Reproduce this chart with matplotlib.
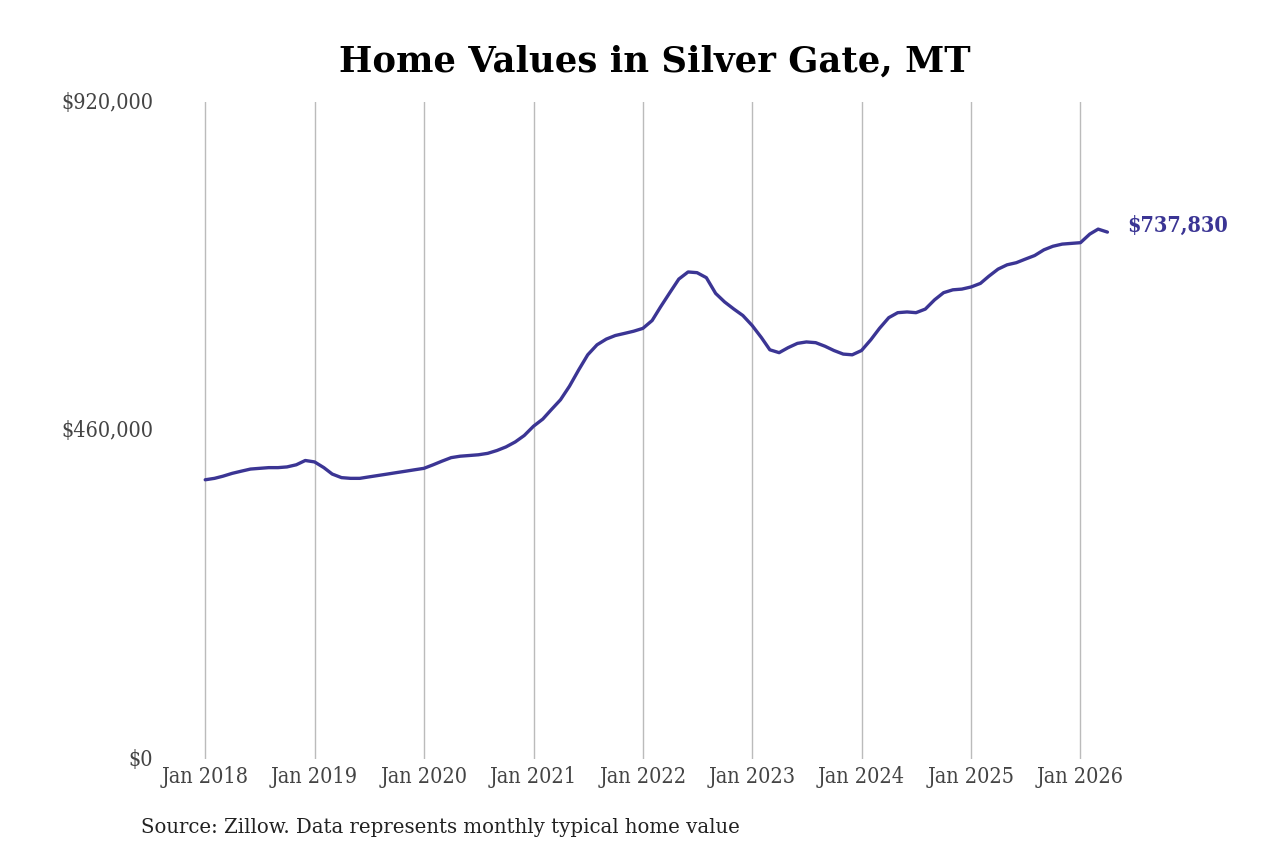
import pandas as pd
import matplotlib.pyplot as plt
import matplotlib.dates as mdates
from matplotlib.ticker import FuncFormatter

# monthly typical home value, Jan 2018 .. Apr 2026
values = [
    391000, 393000, 396000, 400000, 403000, 406000, 407000, 408000, 408000, 409000, 412000, 418000,
    416000, 408000, 399000, 394000, 393000, 393000, 395000, 397000, 399000, 401000, 403000, 405000,
    407000, 412000, 417000, 422000, 424000, 425000, 426000, 428000, 432000, 437000, 444000, 453000,
    466000, 476000, 489000, 503000, 522000, 545000, 566000, 580000, 588000, 593000, 596000, 599000,
    603000, 614000, 633000, 653000, 672000, 682000, 681000, 674000, 652000, 640000, 630000, 621000,
    607000, 590000, 573000, 569000, 576000, 582000, 584000, 583000, 578000, 572000, 567000, 566000,
    572000, 587000, 603000, 618000, 625000, 626000, 625000, 630000, 643000, 653000, 657000, 658000,
    661000, 666000, 676000, 686000, 692000, 695000, 700000, 705000, 713000, 718000, 721000, 722000,
    723000, 735000, 742000, 737830,
]
dates = pd.date_range("2018-01-01", periods=len(values), freq="MS")
tick_years = list(range(2018, 2027))
y_ticks = [0, 460000, 920000]

line_color = "#3b3594"
text_color = "#444444"
plt.rcParams["font.family"] = ["DejaVu Serif"]
plt.rcParams["font.stretch"] = "condensed"

fig = plt.figure(figsize=(12.8, 8.53), dpi=100)
ax = fig.add_axes([160 / 1280, 1 - 760 / 853, 960 / 1280, 657 / 853])

ax.plot(dates, values, color=line_color, linewidth=2.4, solid_capstyle="round",
        solid_joinstyle="round")

ax.set_ylim(0, 920000)
ax.set_xlim(pd.Timestamp("2017-08-03"), pd.Timestamp("2026-05-13"))
ax.set_yticks(y_ticks)
ax.yaxis.set_major_formatter(FuncFormatter(lambda v, p: f"${v:,.0f}"))
ax.set_xticks([pd.Timestamp(f"{y}-01-01") for y in tick_years])
ax.xaxis.set_major_formatter(mdates.DateFormatter("Jan %Y"))

ax.grid(axis="x", color="#bbbbbb", linewidth=1)
ax.set_axisbelow(True)
for s in ax.spines.values():
    s.set_visible(False)
ax.tick_params(axis="both", length=0, labelsize=15.5, colors=text_color)
ax.tick_params(axis="x", pad=4)
ax.tick_params(axis="y", pad=5)
for lbl in ax.get_yticklabels():
    lbl.set_verticalalignment("center")

ax.annotate(f"${values[-1]:,.0f}", xy=(dates[-1], values[-1]), xytext=(14, 5),
            textcoords="offset points", color=line_color, fontsize=15.5,
            fontweight="bold", va="center", ha="left")

fig.text(655 / 1280, 1 - 62 / 853, "Home Values in Silver Gate, MT",
         ha="center", va="center", fontsize=25.5, fontweight="bold",
         fontstretch="normal", color="black")
fig.text(141 / 1280, 1 - 828 / 853, "Source: Zillow. Data represents monthly typical home value",
         ha="left", va="center", fontsize=14.2, fontstretch="normal", color="#222222")

fig.savefig("out.png", dpi=100)
